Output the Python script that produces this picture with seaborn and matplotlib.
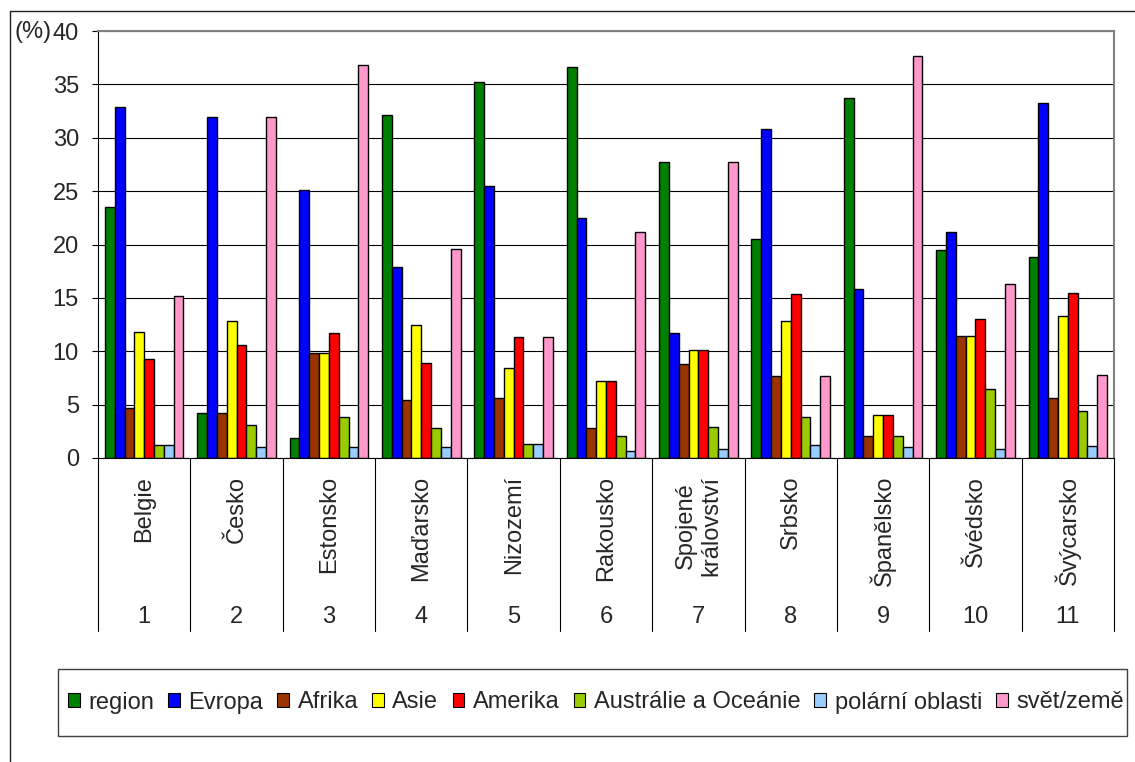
import numpy as np
import pandas as pd
import matplotlib
matplotlib.use("Agg")
import matplotlib.pyplot as plt
import matplotlib.transforms as mtransforms
from matplotlib.patches import Patch, Rectangle
from matplotlib.lines import Line2D
import seaborn as sns

# Countries (x categories) and the share of each destination group (%)
countries = ["Belgie", "Česko", "Estonsko", "Maďarsko", "Nizozemí", "Rakousko",
             "Spojené\nkrálovství", "Srbsko", "Španělsko", "Švédsko", "Švýcarsko"]
series = ["region", "Evropa", "Afrika", "Asie", "Amerika",
          "Austrálie a Oceánie", "polární oblasti", "svět/země"]

region    = [23.5, 4.2, 1.9, 32.1, 35.2, 36.6, 27.7, 20.5, 33.7, 19.5, 18.8]
evropa    = [32.9, 31.9, 25.1, 17.9, 25.5, 22.5, 11.7, 30.8, 15.8, 21.2, 33.3]
afrika    = [4.7, 4.2, 9.8, 5.4, 5.6, 2.8, 8.8, 7.7, 2.1, 11.4, 5.6]
asie      = [11.8, 12.8, 9.8, 12.5, 8.4, 7.2, 10.1, 12.8, 4.0, 11.4, 13.3]
amerika   = [9.3, 10.6, 11.7, 8.9, 11.3, 7.2, 10.1, 15.4, 4.0, 13.0, 15.5]
australie = [1.2, 3.1, 3.8, 2.8, 1.3, 2.1, 2.9, 3.8, 2.1, 6.5, 4.4]
polarni   = [1.2, 1.0, 1.0, 1.0, 1.3, 0.7, 0.8, 1.2, 1.0, 0.8, 1.1]
svet      = [15.2, 31.9, 36.8, 19.6, 11.3, 21.2, 27.7, 7.7, 37.7, 16.3, 7.8]

colors = ["#008000", "#0000FF", "#993300", "#FFFF00", "#FF0000",
          "#99CC00", "#99CCFF", "#FF99CC"]

values = [region, evropa, afrika, asie, amerika, australie, polarni, svet]
rows = []
for name, vals in zip(series, values):
    for c, v in zip(countries, vals):
        rows.append({"země": c, "kategorie": name, "podíl": v})
df = pd.DataFrame(rows)

sns.set_style("white")
plt.rcParams["font.family"] = ["Liberation Sans", "DejaVu Sans"]
FS = 17

W, H = 1135, 762
fig = plt.figure(figsize=(W / 100, H / 100), dpi=100)
ax = fig.add_axes([98 / W, 1 - 458 / H, (1114 - 98) / W, (458 - 31) / H])

sns.barplot(data=df, x="země", y="podíl", hue="kategorie", order=countries,
            hue_order=series, palette=colors, saturation=1, width=0.85,
            edgecolor="black", linewidth=1.0, errorbar=None, legend=False, ax=ax)

ax.set_xlim(-0.5, len(countries) - 0.5)
ax.set_ylim(0, 40)
ax.set_yticks(np.arange(0, 41, 5))
ax.set_xlabel("")
ax.set_ylabel("")
ax.set_axisbelow(True)
ax.yaxis.grid(True, color="black", linewidth=0.8)
ax.xaxis.grid(False)
ax.tick_params(axis="x", bottom=False, labelbottom=False)
ax.tick_params(axis="y", left=True, length=4.3, width=0.8, color="black",
               labelsize=FS, pad=9.5)
for s in ("left", "bottom"):
    ax.spines[s].set_color("black")
    ax.spines[s].set_linewidth(0.8)
for s in ("top", "right"):
    ax.spines[s].set_color("#808080")
    ax.spines[s].set_linewidth(1.5)

# Category table under the axis: separators, names and ordinal numbers
trans = mtransforms.blended_transform_factory(ax.transData, ax.transAxes)
for b in np.arange(-0.5, len(countries)):
    ax.plot([b, b], [0, -0.405], transform=trans, color="black",
            linewidth=0.8, clip_on=False)
for i, name in enumerate(countries):
    ax.text(i, -0.042, name, transform=trans, rotation=90, ha="center",
            va="top", fontsize=FS, multialignment="center")
    ax.text(i, -0.372, str(i + 1), transform=trans, ha="center",
            va="center", fontsize=FS)

fig.text(14 / W, 1 - 32 / H, "(%)", ha="left", va="center", fontsize=FS)

# Legend with a separately drawn box
handles = [Patch(facecolor=c, edgecolor="black", linewidth=0.8) for c in colors]
fig.legend(handles, series, loc="center", bbox_to_anchor=(596 / W, 1 - 702.5 / H),
           ncol=len(series), frameon=False, fontsize=FS, handlelength=0.5,
           handleheight=0.5, handletextpad=0.35, columnspacing=0.6,
           borderpad=0, borderaxespad=0)
fig.add_artist(Rectangle((58 / W, 1 - 736 / H), (1127 - 58) / W, 67 / H,
                         transform=fig.transFigure, fill=False,
                         edgecolor="#404040", linewidth=1))

# Outer chart frame
fig.add_artist(Line2D([10 / W, 10 / W], [0, 1 - 11 / H], transform=fig.transFigure,
                      color="#202020", linewidth=1))
fig.add_artist(Line2D([10 / W, 1], [1 - 11 / H, 1 - 11 / H], transform=fig.transFigure,
                      color="#202020", linewidth=1))

fig.savefig("out.png", dpi=100)
